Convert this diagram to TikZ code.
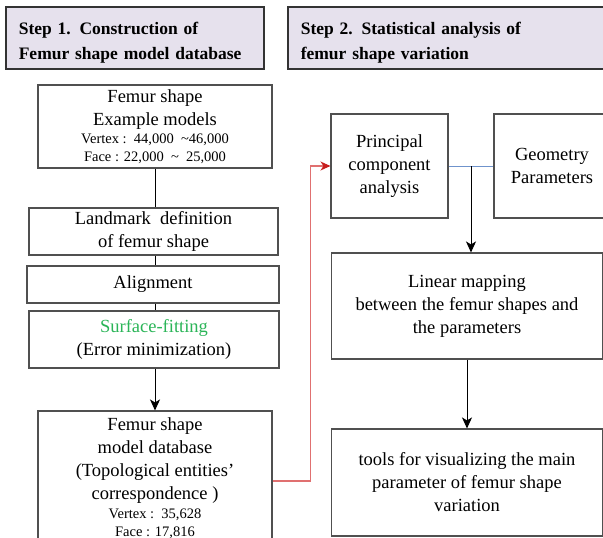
\documentclass[tikz,border=0pt]{standalone}
\usepackage{fontspec}
\setmainfont{Liberation Serif}
\usetikzlibrary{arrows.meta}
\definecolor{boxgray}{HTML}{505050}
\definecolor{hdrfill}{HTML}{E6E1ED}
\definecolor{hdrline}{HTML}{333333}
\definecolor{redl}{HTML}{E07070}
\definecolor{redtip}{HTML}{C81E1E}
\definecolor{bluel}{HTML}{6F93CC}
\definecolor{greent}{HTML}{2BB558}
\newcommand\mainfs{\fontsize{18.5}{23}\selectfont}
\newcommand\smallfs{\fontsize{14.5}{18}\selectfont}
\begin{document}
\begin{tikzpicture}[x=1pt,y=-1pt,
  box/.style={draw=boxgray,line width=1.1pt,fill=white,align=center,inner sep=0pt,font=\mainfs},
  hdr/.style={draw=hdrline,line width=1.6pt,fill=hdrfill,anchor=north west,align=left,
     inner xsep=13pt,inner ysep=0pt,font=\fontsize{17.5}{25}\selectfont\bfseries},
  link/.style={draw=black,line width=1pt},
  arr/.style={link,-{Stealth[length=11pt,width=10pt,inset=3pt]}},
  redarr/.style={draw=redl,line width=1.1pt,-{Stealth[length=10pt,width=9pt,inset=3pt,color=redtip]}},
  blueline/.style={draw=bluel,line width=1pt}]
\useasboundingbox (0,0) rectangle (603,538);
% headers
\node[hdr,minimum width=258pt,minimum height=62pt,text width=232pt] (h1) at (5,6)
  {\rule{0pt}{23pt}Step 1. Construction of\\Femur shape model database};
\node[hdr,minimum width=323pt,minimum height=62pt,text width=297pt] (h2) at (287,6)
  {\rule{0pt}{23pt}Step 2. Statistical analysis of\\femur shape variation};
% left column
\node[box,minimum width=234pt,minimum height=83pt] (A) at (155,126.5)
  {Femur shape\\Example models\\[-5pt]{\smallfs Vertex :~~44,000~~\textasciitilde46,000}\\[-5pt]{\smallfs Face : 22,000~~\textasciitilde~~25,000}};
\node[box,minimum width=249pt,minimum height=47pt] (B) at (153.5,231.5)
  {Landmark~ definition\\of femur shape};
\node[box,minimum width=252pt,minimum height=37pt] (C) at (153,284.5)
  {Alignment};
\node[box,minimum width=250pt,minimum height=57pt] (D) at (154,339.5)
  {\textcolor{greent}{Surface-fitting}\\(Error minimization)};
\node[box,minimum width=234pt,minimum height=134pt] (E) at (155,478)
  {Femur shape\\model database\\(Topological entities'\\correspondence )\\[-4pt]{\smallfs Vertex :~~35,628}\\[-5pt]{\smallfs Face : 17,816}};
% right column
\node[box,minimum width=117pt,minimum height=104pt] (P) at (389.5,166)
  {Principal\\component\\analysis};
\node[box,minimum width=116pt,minimum height=104pt] (G) at (552,166)
  {Geometry\\Parameters};
\node[box,minimum width=271pt,minimum height=106pt] (L) at (467,306)
  {Linear mapping\\between the femur shapes and\\the parameters};
\node[box,minimum width=271pt,minimum height=107pt] (T) at (467,482.5)
  {tools for visualizing the main\\parameter of femur shape\\variation};
% connectors
\draw[link] (A.south) -- (A.south |- B.north);
\draw[link] (A.south |- B.south) -- (A.south |- C.north);
\draw[link] (A.south |- C.south) -- (A.south |- D.north);
\draw[arr] (A.south |- D.south) -- (E.north);
\draw[redarr] ([yshift=-3pt]E.east) -- ++(38,0) |- (P.west);
\draw[blueline] (P.east) -- (G.west);
\coordinate (j) at (471,166);
\draw[arr] (j) -- (j |- L.north);
\draw[arr] (L.south) -- (T.north);
\end{tikzpicture}
\end{document}
